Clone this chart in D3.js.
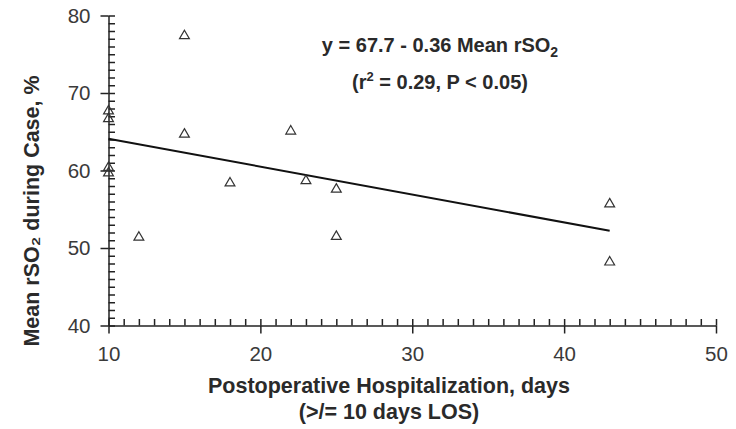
<!DOCTYPE html>
<html>
<head>
<meta charset="utf-8">
<script src="https://cdn.jsdelivr.net/npm/d3@7"></script>
<style>
  body { margin: 0; background: #fff; }
  svg { font-family: "Liberation Sans", Arial, sans-serif; }
</style>
</head>
<body>
<svg width="736" height="429"></svg>
<script>
// postoperative hospitalization (days) vs mean rSO2 during case (%)
const losDays = [15, 10, 10, 15, 22, 10, 10, 18, 23, 25, 12, 25, 43, 43];
const meanRso2 = [77.5, 67.8, 66.8, 64.8, 65.2, 60.5, 59.8, 58.5, 58.8, 57.7, 51.5, 51.6, 55.8, 48.3];
const xTicks = [10, 20, 30, 40, 50];
const yTicks = [40, 50, 60, 70, 80];
// regression line: y = 67.7 - 0.36 x, drawn over the data range
const fitX = [10, 43];
const intercept = 67.7, slope = -0.36;

const svg = d3.select("svg");
const x = d3.scaleLinear().domain([10, 50]).range([108.5, 716]);
const y = d3.scaleLinear().domain([40, 80]).range([325.5, 15.5]);

const ink = "#222";

// minor ticks (inside)
svg.append("g")
  .attr("transform", "translate(108.5,0)")
  .call(d3.axisLeft(y).tickValues(d3.range(40, 81)).tickSize(-6.5).tickFormat(""))
  .call(g => g.select(".domain").remove());
svg.append("g")
  .attr("transform", "translate(0,325.5)")
  .call(d3.axisBottom(x).tickValues(d3.range(10, 51)).tickSize(-6.5).tickFormat(""))
  .call(g => g.select(".domain").remove());

// main axes
const yAxis = svg.append("g")
  .attr("transform", "translate(108.5,0)")
  .call(d3.axisLeft(y).tickValues(yTicks).tickSize(8).tickSizeOuter(0).tickPadding(10));
const xAxis = svg.append("g")
  .attr("transform", "translate(0,325.5)")
  .call(d3.axisBottom(x).tickValues(xTicks).tickSize(8).tickSizeOuter(0).tickPadding(13));

svg.selectAll(".tick line, .domain").attr("stroke", ink).attr("stroke-width", 1.5);
[xAxis, yAxis].forEach(g => g.selectAll("text")
  .attr("font-size", 20.5).attr("fill", "#3a3a3a").attr("font-family", "Liberation Sans, Arial, sans-serif"));

// regression line
svg.append("line")
  .attr("x1", x(fitX[0])).attr("y1", y(intercept + slope * fitX[0]))
  .attr("x2", x(fitX[1])).attr("y2", y(intercept + slope * fitX[1]))
  .attr("stroke", "#111").attr("stroke-width", 2);

// points
const tri = d3.symbol().type(d3.symbolTriangle).size(42);
svg.append("g").selectAll("path")
  .data(losDays.map((d, i) => [d, meanRso2[i]]))
  .join("path")
  .attr("d", tri)
  .attr("transform", d => `translate(${x(d[0])},${y(d[1]) + 1})`)
  .attr("fill", "none")
  .attr("stroke", "#333")
  .attr("stroke-width", 1.2);

// axis titles
svg.append("text")
  .attr("transform", "translate(39,211) rotate(-90)")
  .attr("text-anchor", "middle")
  .attr("font-size", 21.5).attr("font-weight", "bold").attr("fill", "#2a2a2a")
  .text("Mean rSO₂ during Case, %");

svg.append("text")
  .attr("x", 389).attr("y", 393)
  .attr("text-anchor", "middle")
  .attr("font-size", 21.5).attr("font-weight", "bold").attr("fill", "#2a2a2a")
  .text("Postoperative Hospitalization, days");
svg.append("text")
  .attr("x", 389).attr("y", 419)
  .attr("text-anchor", "middle")
  .attr("font-size", 21.5).attr("font-weight", "bold").attr("fill", "#2a2a2a")
  .text("(>/= 10 days LOS)");

// equation annotation
const eq = svg.append("text")
  .attr("x", 440).attr("y", 52)
  .attr("text-anchor", "middle")
  .attr("font-size", 20).attr("font-weight", "bold").attr("fill", "#2a2a2a");
eq.append("tspan").text("y = 67.7 - 0.36 Mean rSO");
eq.append("tspan").attr("font-size", 14).attr("dy", 5).text("2");

const st = svg.append("text")
  .attr("x", 440).attr("y", 89)
  .attr("text-anchor", "middle")
  .attr("font-size", 20).attr("font-weight", "bold").attr("fill", "#2a2a2a");
st.append("tspan").text("(r");
st.append("tspan").attr("font-size", 13).attr("dy", -8).text("2");
st.append("tspan").attr("dy", 8).text(" = 0.29, P < 0.05)");
</script>
</body>
</html>
